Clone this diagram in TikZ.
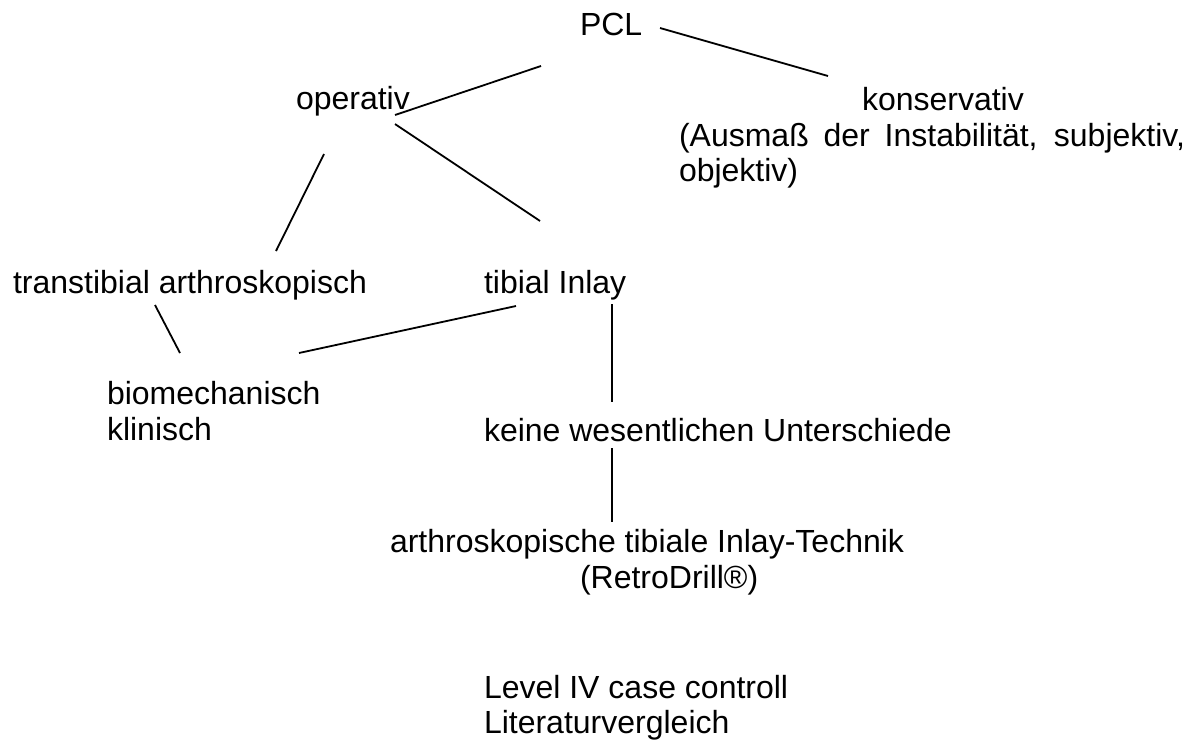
\documentclass[tikz,border=0pt]{standalone}
\usepackage{fontspec}
\setmainfont{Liberation Sans}
\begin{document}
\begin{tikzpicture}[x=1pt,y=-1pt,
  txt/.style={inner sep=0pt, outer sep=0pt, anchor=base west, font=\fontsize{32}{35}\selectfont},
  link/.style={line width=1.8pt, black}]
\useasboundingbox[fill=white] (0,0) rectangle (1193,745);
% texts
\node[txt] (pcl) at (580,35) {PCL};
\node[txt] (op) at (296,109) {operativ};
\node[txt] (kon) at (862,110) {konservativ};
\node[txt] (kon1) at (679,146) {\makebox[506pt][s]{(Ausmaß der Instabilität, subjektiv,}};
\node[txt] (kon2) at (679,181) {objektiv)};
\node[txt] (tt) at (13,293) {transtibial arthroskopisch};
\node[txt] (ti) at (484,293) {tibial Inlay};
\node[txt] (bio) at (107,404) {biomechanisch};
\node[txt] (kli) at (107,440) {klinisch};
\node[txt] (kwu) at (484,441) {keine wesentlichen Unterschiede};
\node[txt] (ati) at (390,552) {arthroskopische tibiale Inlay-Technik};
\node[txt] (rd) at (580,588) {(RetroDrill®)};
\node[txt] (lev) at (484,698) {Level IV case controll};
\node[txt] (lit) at (484,733) {Literaturvergleich};
% connector end points
\coordinate (a1) at (660,28);  \coordinate (a2) at (828,76);
\coordinate (b1) at (541,66);  \coordinate (b2) at (395,115);
\coordinate (c1) at (395,124); \coordinate (c2) at (540,221);
\coordinate (d1) at (324,154); \coordinate (d2) at (276,251);
\coordinate (e1) at (155,305); \coordinate (e2) at (180,353);
\coordinate (f1) at (516,306); \coordinate (f2) at (299,353);
\coordinate (g1) at (612,304); \coordinate (g2) at (612,402);
\coordinate (h1) at (612,448); \coordinate (h2) at (612,522);
\draw[link] (a1) -- (a2);
\draw[link] (b1) -- (b2);
\draw[link] (c1) -- (c2);
\draw[link] (d1) -- (d2);
\draw[link] (e1) -- (e2);
\draw[link] (f1) -- (f2);
\draw[link] (g1) -- (g2);
\draw[link] (h1) -- (h2);
\end{tikzpicture}
\end{document}
